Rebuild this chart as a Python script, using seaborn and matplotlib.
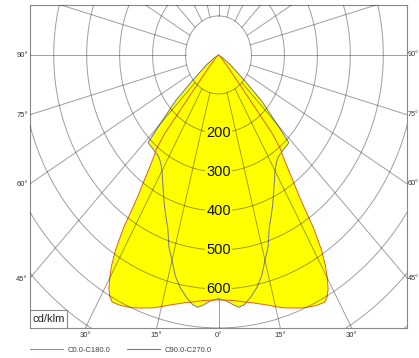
import numpy as np
import pandas as pd
import seaborn as sns
import matplotlib
matplotlib.use('Agg')
import matplotlib.pyplot as plt
from matplotlib.lines import Line2D
from matplotlib.patches import Rectangle

# gamma angle (deg from nadir) and luminous intensity in cd/klm
gamma = [0, 2, 4, 5.5, 7, 9, 11, 13, 15, 17, 19, 21, 23, 25, 27, 28, 29, 30, 31, 32,
         33, 34, 35, 36, 37, 38, 39, 40, 42, 43.5, 44.5, 46, 48, 50, 55, 60, 90]
c0_c180 = [628, 629, 631, 634, 638, 643, 650, 658, 668, 678, 686, 695, 702, 708, 711, 702,
           686, 660, 630, 590, 530, 440, 395, 355, 325, 305, 260, 120, 50, 30, 22, 15, 10,
           6, 3, 0, 0]
c90_c270 = [625, 630, 642, 650, 645, 628, 608, 582, 545, 515, 472, 445, 420, 395, 372, 362,
            352, 343, 336, 330, 325, 321, 318, 316, 315, 314, 313, 312, 311, 310, 270, 220,
            175, 110, 45, 15, 0]

rings = [100, 200, 300, 400, 500, 600, 700, 800, 900]
ring_labels = [200, 300, 400, 500, 600]
side_angles = [90, 75, 60, 45]
bottom_angles = [-30, -15, 0, 15, 30]
series_names = ['C0.0-C180.0', 'C90.0-C270.0']

XMAX, YMIN, YMAX = 572, -700, 128

sns.set_theme(style='white')
plt.rcParams['font.family'] = ['Liberation Sans', 'DejaVu Sans']


def curve_frame(name, values):
    g = np.radians(gamma)
    r = np.asarray(values, dtype=float)
    # right half going up from nadir, then left half coming back down
    x = np.concatenate([r * np.sin(g), -(r * np.sin(g))[::-1]])
    y = np.concatenate([-r * np.cos(g), (-r * np.cos(g))[::-1]])
    return pd.DataFrame({'x': x, 'y': y, 'curve': name})


df = pd.concat([curve_frame(series_names[0], c0_c180),
                curve_frame(series_names[1], c90_c270)], ignore_index=True)

fig = plt.figure(figsize=(4.19, 3.58), dpi=100)
ax = fig.add_axes([30 / 419, 30 / 358, 377 / 419, 323 / 358])

for name, sub in df.groupby('curve'):
    ax.fill(sub['x'], sub['y'], color='#ffff00', lw=0, zorder=1)

sns.lineplot(data=df[df['curve'] == series_names[1]], x='x', y='y', sort=False,
             estimator=None, color='#77778a', lw=0.7, ax=ax, zorder=2, legend=False)
sns.lineplot(data=df[df['curve'] == series_names[0]], x='x', y='y', sort=False,
             estimator=None, color='#e0602a', lw=0.7, ax=ax, zorder=2, legend=False)

# polar grid
t = np.linspace(0, 2 * np.pi, 400)
for r in rings:
    ax.plot(r * np.sin(t), r * np.cos(t), color='k', alpha=0.42, lw=0.7, zorder=3)
for a in range(0, 360, 15):
    ar = np.radians(a)
    z = 0.5 if a == 0 else 3
    ax.plot([100 * np.sin(ar), 1300 * np.sin(ar)], [-100 * np.cos(ar), -1300 * np.cos(ar)],
            color='k', alpha=0.42, lw=0.7, zorder=z)

for r in ring_labels:
    ax.text(0, -r, str(r), ha='center', va='center', fontsize=10.5, color='#111111', zorder=5,
            bbox=dict(boxstyle='square,pad=0.05', fc='#ffff00', ec='none'))

ax.set_xlim(-XMAX, XMAX)
ax.set_ylim(YMIN, YMAX)
ax.set_xlabel('')
ax.set_ylabel('')

side_y = [-XMAX * np.tan(np.radians(90 - a)) for a in side_angles]
ax.set_xticks([-YMIN * np.tan(np.radians(a)) for a in bottom_angles])
ax.set_xticklabels([f'{abs(a)}°' for a in bottom_angles])
ax.set_yticks(side_y)
ax.set_yticklabels([f'{a}°' for a in side_angles])
ax.tick_params(axis='both', length=0, labelsize=5.5, labelcolor='#333333')
ax.tick_params(axis='x', pad=3)
ax.tick_params(axis='y', pad=1.5)

# right-hand angle labels squeezed into the narrow margin
for a, y in zip(side_angles, side_y):
    ax.annotate(f'{a}°', xy=(1, y), xycoords=('axes fraction', 'data'), xytext=(0.6, 0),
                textcoords='offset points', ha='left', va='center', fontsize=5.2,
                color='#333333', annotation_clip=False)

for s in ax.spines.values():
    s.set_color('#888888')
    s.set_linewidth(0.8)
    s.set_visible(True)

ax.add_patch(Rectangle((0, 0), 37 / 377, 18 / 323, transform=ax.transAxes,
                       fc='white', ec='#888888', lw=0.8, zorder=6))
ax.text(18.5 / 377, 9 / 323, 'cd/klm', transform=ax.transAxes, ha='center', va='center',
        fontsize=8, color='#222222', zorder=7)

handles = [Line2D([], [], color='#e07070', lw=0.8), Line2D([], [], color='#7070d0', lw=0.8)]
fig.legend(handles, series_names, loc='center left', bbox_to_anchor=(30 / 419, 8 / 358),
           ncol=2, frameon=False, fontsize=5.5, labelcolor='#444444', handlelength=4.3,
           handletextpad=0.6, columnspacing=2.2, borderpad=0, borderaxespad=0)

fig.savefig('out.png', dpi=100)
